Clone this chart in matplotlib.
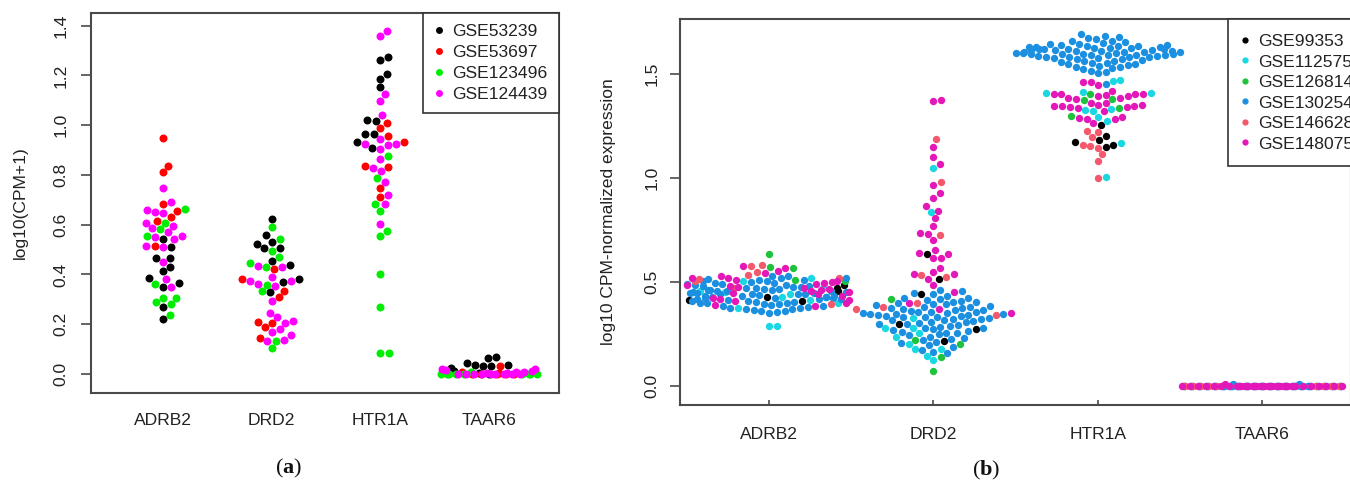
import numpy as np
import matplotlib
matplotlib.use("Agg")
import matplotlib.pyplot as plt
from matplotlib.lines import Line2D

plt.rcParams['font.family'] = ['Liberation Sans', 'DejaVu Sans']
plt.rcParams['mathtext.fontset'] = 'custom'
plt.rcParams['mathtext.rm'] = 'Liberation Serif'
plt.rcParams['mathtext.bf'] = 'Liberation Serif:bold'

genes = ["ADRB2", "DRD2", "HTR1A", "TAAR6"]

# ---- panel (a): log10(CPM+1), four datasets ----
sets_a = ["GSE53239", "GSE53697", "GSE123496", "GSE124439"]
colors_a = ["#000000", "#ff0000", "#00ee00", "#ff00ff"]

a_adrb2 = {
    "GSE53239": [0.543, 0.512, 0.465, 0.468, 0.431, 0.415, 0.385, 0.351, 0.367, 0.271, 0.221],
    "GSE53697": [0.947, 0.837, 0.810, 0.682, 0.655, 0.632, 0.616, 0.514],
    "GSE123496": [0.663, 0.608, 0.581, 0.556, 0.360, 0.307, 0.307, 0.288, 0.280, 0.237],
    "GSE124439": [0.749, 0.693, 0.659, 0.650, 0.646, 0.606, 0.596, 0.585, 0.569, 0.552,
                  0.556, 0.543, 0.516, 0.509, 0.451, 0.382, 0.351],
}
a_drd2 = {
    "GSE53239": [0.624, 0.557, 0.523, 0.532, 0.505, 0.505, 0.456, 0.437, 0.382, 0.368, 0.328],
    "GSE53697": [0.423, 0.382, 0.334, 0.308, 0.210, 0.206, 0.188, 0.145],
    "GSE123496": [0.589, 0.541, 0.496, 0.472, 0.445, 0.431, 0.359, 0.332, 0.133, 0.104],
    "GSE124439": [0.434, 0.431, 0.391, 0.372, 0.372, 0.355, 0.360, 0.295, 0.244, 0.230,
                  0.206, 0.213, 0.170, 0.180, 0.157, 0.137, 0.134],
}
a_htr1a = {
    "GSE53239": [1.275, 1.262, 1.206, 1.186, 1.152, 1.018, 1.021, 0.963, 0.963, 0.934, 0.907],
    "GSE53697": [1.010, 0.990, 0.958, 0.934, 0.836, 0.831, 0.746, 0.710],
    "GSE123496": [0.878, 0.786, 0.683, 0.656, 0.575, 0.556, 0.402, 0.271, 0.083, 0.086],
    "GSE124439": [1.380, 1.358, 1.125, 1.097, 1.041, 0.924, 0.904, 0.920, 0.924, 0.943,
                  0.863, 0.827, 0.817, 0.773, 0.719, 0.682, 0.603],
}
a_taar6 = {
    "GSE53239": [0.067, 0.063, 0.043, 0.036, 0.032, 0.032, 0.036, 0.023, 0.012, 0.005, 0.0],
    "GSE53697": [0.034, 0.010, 0.004, 0.0, 0.0, 0.0, 0.0, 0.0],
    "GSE123496": [0.008, 0.0, 0.0, 0.0, 0.0, 0.0, 0.0, 0.0, 0.0, 0.0],
    "GSE124439": [0.022, 0.020, 0.015, 0.012, 0.010, 0.008, 0.005, 0.003, 0.0,
                  0.0, 0.0, 0.0, 0.0, 0.0, 0.0, 0.0, 0.0],
}

# ---- panel (b): log10 CPM-normalized expression, six datasets ----
sets_b = ["GSE99353", "GSE112575", "GSE126814", "GSE130254", "GSE146628", "GSE148075"]
colors_b = ["#000000", "#19d8e2", "#1fc23c", "#1b8fe0", "#f4586c", "#e417b8"]

b_adrb2 = {
    "GSE99353": [0.485, 0.470, 0.455, 0.430, 0.412, 0.410],
    "GSE112575": [0.520, 0.505, 0.470, 0.455, 0.450, 0.440, 0.430, 0.415, 0.400, 0.375, 0.290, 0.288],
    "GSE126814": [0.635, 0.572, 0.568, 0.510, 0.505],
    "GSE130254": [0.531, 0.527, 0.521, 0.518, 0.514, 0.511, 0.508, 0.506, 0.503, 0.500,
                  0.497, 0.495, 0.492, 0.489, 0.487, 0.484, 0.481, 0.479, 0.476, 0.474,
                  0.472, 0.469, 0.467, 0.465, 0.462, 0.460, 0.458, 0.456, 0.453, 0.451,
                  0.449, 0.447, 0.444, 0.442, 0.440, 0.437, 0.435, 0.433, 0.430, 0.428,
                  0.426, 0.423, 0.421, 0.418, 0.416, 0.413, 0.411, 0.408, 0.405, 0.403,
                  0.400, 0.398, 0.395, 0.392, 0.389, 0.386, 0.383, 0.380, 0.377, 0.374,
                  0.371, 0.368, 0.365, 0.362, 0.359, 0.356, 0.353, 0.463, 0.447, 0.421,
                  0.398, 0.442, 0.455, 0.417, 0.432],
    "GSE146628": [0.580, 0.575, 0.550, 0.535, 0.520, 0.515, 0.505, 0.470, 0.395],
    "GSE148075": [0.578, 0.565, 0.555, 0.545, 0.530, 0.520, 0.518, 0.510, 0.505, 0.500,
                  0.497, 0.490, 0.485, 0.480, 0.475, 0.470, 0.465, 0.460, 0.455, 0.450,
                  0.445, 0.440, 0.435, 0.425, 0.420, 0.415, 0.410, 0.400, 0.390, 0.385],
}
b_drd2 = {
    "GSE99353": [0.635, 0.513, 0.442, 0.298, 0.274, 0.218],
    "GSE112575": [1.046, 0.838, 0.325, 0.277, 0.277, 0.253, 0.234, 0.200, 0.178, 0.176, 0.144, 0.125],
    "GSE126814": [0.417, 0.221, 0.202, 0.138, 0.072],
    "GSE130254": [0.462, 0.455, 0.447, 0.440, 0.432, 0.425, 0.421, 0.418, 0.415, 0.410,
                  0.406, 0.402, 0.399, 0.396, 0.392, 0.388, 0.385, 0.382, 0.379, 0.376,
                  0.373, 0.370, 0.367, 0.364, 0.361, 0.358, 0.356, 0.354, 0.352, 0.350,
                  0.348, 0.346, 0.344, 0.342, 0.340, 0.338, 0.336, 0.334, 0.332, 0.330,
                  0.327, 0.324, 0.321, 0.318, 0.315, 0.312, 0.309, 0.306, 0.303, 0.300,
                  0.297, 0.293, 0.289, 0.285, 0.281, 0.277, 0.273, 0.269, 0.265, 0.261,
                  0.257, 0.253, 0.248, 0.243, 0.238, 0.232, 0.226, 0.220, 0.213, 0.205,
                  0.196, 0.186, 0.175, 0.165, 0.158],
    "GSE146628": [1.186, 0.979, 0.724, 0.532, 0.522, 0.397, 0.380, 0.370, 0.343],
    "GSE148075": [1.372, 1.375, 1.151, 1.103, 1.066, 0.966, 0.926, 0.905, 0.867, 0.843,
                  0.806, 0.769, 0.734, 0.729, 0.702, 0.654, 0.635, 0.638, 0.617, 0.617,
                  0.569, 0.537, 0.550, 0.538, 0.513, 0.486, 0.450, 0.369, 0.350, 0.398],
}
b_htr1a = {
    "GSE99353": [1.255, 1.200, 1.183, 1.150, 1.159, 1.175],
    "GSE112575": [1.471, 1.468, 1.415, 1.407, 1.407, 1.324, 1.327, 1.330, 1.295, 1.276, 1.167, 1.003],
    "GSE126814": [1.404, 1.375, 1.380, 1.338, 1.298],
    "GSE130254": [1.690, 1.684, 1.677, 1.671, 1.666, 1.661, 1.657, 1.653, 1.649, 1.646,
                  1.643, 1.640, 1.638, 1.636, 1.633, 1.631, 1.629, 1.626, 1.624, 1.622,
                  1.620, 1.618, 1.616, 1.614, 1.612, 1.610, 1.608, 1.606, 1.604, 1.602,
                  1.600, 1.598, 1.596, 1.594, 1.592, 1.590, 1.588, 1.586, 1.584, 1.582,
                  1.580, 1.578, 1.576, 1.573, 1.570, 1.567, 1.564, 1.561, 1.558, 1.555,
                  1.552, 1.549, 1.546, 1.543, 1.540, 1.536, 1.532, 1.527, 1.522, 1.516,
                  1.510, 1.503, 1.452, 1.619, 1.607, 1.597, 1.628, 1.589, 1.637, 1.603,
                  1.615, 1.611, 1.593, 1.625, 1.581],
    "GSE146628": [1.220, 1.226, 1.196, 1.155, 1.146, 1.114, 1.082, 1.002, 1.160],
    "GSE148075": [1.463, 1.460, 1.447, 1.418, 1.404, 1.404, 1.395, 1.384, 1.384, 1.404,
                  1.395, 1.404, 1.351, 1.351, 1.347, 1.340, 1.360, 1.343, 1.360, 1.335,
                  1.347, 1.347, 1.284, 1.295, 1.290, 1.284, 1.263, 1.400, 1.380, 1.320],
}
b_taar6 = {
    "GSE99353": [0, 0, 0, 0, 0, 0],
    "GSE112575": [0, 0, 0, 0, 0, 0, 0, 0, 0, 0, 0, 0],
    "GSE126814": [0, 0, 0, 0, 0],
    "GSE130254": [0.012, 0.010, 0, 0, 0, 0, 0, 0, 0, 0, 0, 0, 0, 0, 0,
                  0, 0, 0, 0, 0, 0, 0, 0, 0, 0, 0, 0, 0, 0, 0,
                  0, 0, 0, 0, 0, 0, 0, 0, 0, 0, 0, 0, 0, 0, 0,
                  0, 0, 0, 0, 0, 0, 0, 0, 0, 0, 0, 0, 0, 0, 0,
                  0, 0, 0, 0, 0, 0, 0, 0, 0, 0, 0, 0, 0, 0, 0],
    "GSE146628": [0, 0, 0, 0, 0, 0, 0, 0, 0],
    "GSE148075": [0.012, 0, 0, 0, 0, 0, 0, 0, 0, 0, 0, 0, 0, 0, 0,
                  0, 0, 0, 0, 0, 0, 0, 0, 0, 0, 0, 0, 0, 0, 0],
}

W, H = 1350, 486
FS = 12.6


def swarm(vals, d):
    # beeswarm "swarm" method, ascending priority; d = dot spacing in y units
    y = np.asarray(vals, float) / d
    order = np.argsort(y, kind="stable")
    ys = y[order]
    xs = np.zeros(len(ys))
    for i in range(1, len(ys)):
        dy = np.abs(ys[i] - ys[:i])
        near = dy < 1
        if not near.any():
            continue
        px = xs[:i][near]
        dyn = dy[near]
        off = np.sqrt(1 - dyn ** 2)
        cand = np.concatenate([[0.0], px + off, px - off])
        bad = np.array([np.any(dyn ** 2 + (px - c) ** 2 < 0.999) for c in cand])
        cand[bad] = np.inf
        xs[i] = cand[np.argmin(np.abs(cand))]
    out = np.zeros(len(ys))
    out[order] = xs
    return out


def draw_swarms(ax, groups, sets, colors, dot_px, corral, msize):
    p0 = ax.transData.transform((0, 0))
    p1 = ax.transData.transform((1, 1))
    xppu, yppu = p1[0] - p0[0], p1[1] - p0[1]
    for pos, grp in enumerate(groups, start=1):
        vals = np.concatenate([grp[s] for s in sets])
        off = swarm(vals, dot_px / yppu) * dot_px
        w = corral * xppu
        off = ((off + w / 2) % w) - w / 2
        xs = pos + off / xppu
        k = 0
        for s, c in zip(sets, colors):
            n = len(grp[s])
            ax.scatter(xs[k:k + n], grp[s], s=msize, c=c, linewidths=0, zorder=3)
            k += n


def frame(ax):
    for sp in ax.spines.values():
        sp.set_color("#4a4a4a")
        sp.set_linewidth(1.5)


fig = plt.figure(figsize=(W / 100, H / 100), dpi=100)

# panel (a)
axa = fig.add_axes([90.7 / W, 1 - 392.5 / H, (559 - 90.7) / W, (392.5 - 12.7) / H])
axa.set_xlim(0.335, 4.645)
axa.set_ylim(-0.0744, 1.4522)
frame(axa)
axa.set_xticks(range(1, 5), genes)
axa.set_yticks(np.arange(0, 1.41, 0.2), [f"{v:.1f}" for v in np.arange(0, 1.41, 0.2)])
axa.tick_params(axis="x", length=0, pad=14.9, labelsize=FS, labelcolor="#222222")
axa.tick_params(axis="y", length=7.2, width=1.2, color="#4a4a4a", pad=8.8,
                labelsize=FS, labelcolor="#222222", labelrotation=90)
for t in axa.get_yticklabels():
    t.set_va("center")
draw_swarms(axa, [a_adrb2, a_drd2, a_htr1a, a_taar6], sets_a, colors_a, 8.3, 0.9, 33)
ha = [Line2D([], [], ls="", marker="o", ms=5, mec="none", mfc=c) for c in colors_a]
leg = axa.legend(ha, sets_a, loc="upper right", bbox_to_anchor=(1, 1), borderaxespad=0,
                 fancybox=False, edgecolor="#333333", framealpha=1, fontsize=FS,
                 borderpad=0.65, handlelength=0.6, handletextpad=0.45, labelspacing=0.32,
                 labelcolor="#222222")
leg.get_frame().set_linewidth(1.2)
fig.text(20 / W, 1 - 202.6 / H, "log10(CPM+1)", rotation=90, ha="center", va="center",
         fontsize=FS, color="#222222")

# panel (b)
axb = fig.add_axes([680 / W, 1 - 405 / H, (1351 - 680) / W, (405 - 19) / H])
axb.set_xlim(0.458, 4.54)
axb.set_ylim(-0.0913, 1.7644)
frame(axb)
axb.set_xticks(range(1, 5), genes)
axb.set_yticks([0, 0.5, 1.0, 1.5], ["0.0", "0.5", "1.0", "1.5"])
axb.tick_params(axis="x", direction="in", length=3.6, width=1.2, color="#4a4a4a", pad=16,
                labelsize=FS, labelcolor="#222222")
axb.tick_params(axis="y", length=7.2, width=1.2, color="#4a4a4a", pad=7.3,
                labelsize=FS, labelcolor="#222222", labelrotation=90)
for t in axb.get_yticklabels():
    t.set_va("center")
draw_swarms(axb, [b_adrb2, b_drd2, b_htr1a, b_taar6], sets_b, colors_b, 7.8, 1.0, 28)
hb = [Line2D([], [], ls="", marker="o", ms=4.5, mec="none", mfc=c) for c in colors_b]
lx = axb.transAxes.inverted().transform(fig.transFigure.transform((1228 / W, 0)))[0]
legb = axb.legend(hb, sets_b, loc="upper left", bbox_to_anchor=(lx, 1), borderaxespad=0,
                  fancybox=False, edgecolor="#333333", framealpha=1, fontsize=FS,
                  borderpad=0.85, handlelength=0.2, handletextpad=0.66, labelspacing=0.3,
                  labelcolor="#222222")
legb.get_frame().set_linewidth(1.2)
fig.text(609 / W, 1 - 212 / H, "log10 CPM-normalized expression", rotation=90,
         ha="center", va="center", fontsize=FS, color="#222222")

# sub-figure labels
fig.text(289 / W, 1 - 468 / H, r"($\mathbf{a}$)", family="Liberation Serif",
         fontsize=16, ha="center", va="center", color="#111111")
fig.text(986 / W, 1 - 470 / H, r"($\mathbf{b}$)", family="Liberation Serif",
         fontsize=16, ha="center", va="center", color="#111111")

fig.savefig("out.png", dpi=100)
